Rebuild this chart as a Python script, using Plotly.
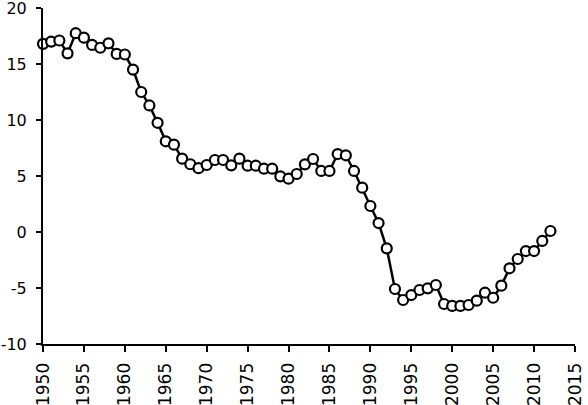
import plotly.graph_objects as go

years = list(range(1950, 2013))
values = [
    16.8, 17.0, 17.1, 15.95, 17.75, 17.35, 16.7, 16.45, 16.85, 15.9,   # 1950-1959
    15.85, 14.5, 12.5, 11.3, 9.75, 8.1, 7.8, 6.55, 6.05, 5.7,          # 1960-1969
    5.98, 6.43, 6.43, 5.95, 6.55, 5.92, 5.92, 5.65, 5.65, 4.97,        # 1970-1979
    4.76, 5.18, 6.04, 6.52, 5.45, 5.45, 6.96, 6.85, 5.45, 3.96,        # 1980-1989
    2.32, 0.8, -1.46, -5.09, -6.07, -5.63, -5.18, -5.03, -4.73, -6.43, # 1990-1999
    -6.6, -6.6, -6.52, -6.13, -5.42, -5.87, -4.79, -3.24, -2.41, -1.7, # 2000-2009
    -1.7, -0.8, 0.09,                                                  # 2010-2012
]
x_ticks = list(range(1950, 2016, 5))
y_ticks = [-10, -5, 0, 5, 10, 15, 20]
y_labels = ["-10", "-5", "0", "5", "10", "15", "20"]

fig = go.Figure()
fig.add_trace(go.Scatter(
    x=years, y=values, mode="lines+markers",
    line=dict(color="black", width=2.5),
    marker=dict(size=10, color="white", line=dict(color="black", width=2.2)),
    showlegend=False, cliponaxis=False,
))

fig.update_layout(
    width=588, height=405,
    margin=dict(l=43, r=13, t=8, b=61),
    paper_bgcolor="white", plot_bgcolor="white",
    font=dict(family="DejaVu Sans", size=16, color="black"),
)
fig.update_xaxes(
    range=[1950, 2015], tickvals=x_ticks, tickangle=-90,
    tickfont=dict(size=17), automargin=False, ticklabeloverflow="allow",
    ticklabelstandoff=4,
    showgrid=False, zeroline=False,
    showline=True, linecolor="black", linewidth=2,
    ticks="outside", ticklen=6, tickwidth=1.5, tickcolor="black",
)
fig.update_yaxes(
    range=[-10, 20], tickvals=y_ticks, ticktext=y_labels,
    automargin=False, ticklabelstandoff=6, ticklabeloverflow="allow",
    showgrid=False, zeroline=False,
    showline=True, linecolor="black", linewidth=2,
    ticks="outside", ticklen=5, tickwidth=1.5, tickcolor="black",
)

# page has a default 8px body margin; drop it so the figure sits at 0,0
fig.write_html("out.html", config={"displayModeBar": False},
               post_script="document.body.style.margin='0';")
